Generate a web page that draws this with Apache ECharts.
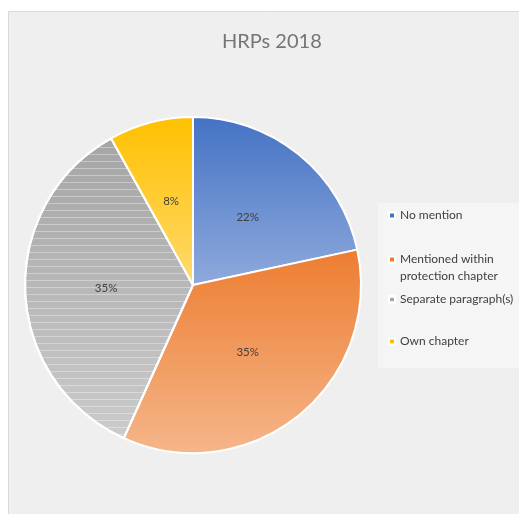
<!DOCTYPE html>
<html><head><meta charset="utf-8">
<script src="https://cdn.jsdelivr.net/npm/echarts@6/dist/echarts.min.js"></script>
<style>html,body{margin:0;padding:0;background:#fff}#c{width:519px;height:514px}</style>
</head><body><div id="c"></div>
<script>
const categories = ['No mention', 'Mentioned within protection chapter', 'Separate paragraph(s)', 'Own chapter'];
const values = [8, 13, 13, 3];
const titleText = 'HRPs 2018';

const grads = [
  ['#4472C4', '#8FAADC'],
  ['#ED7D31', '#F5B68A'],
  ['#A5A5A5', '#CBCBCB'],
  ['#FFC000', '#FFDA6E']
];
const legendColors = ['#4472C4', '#ED7D31', '#A5A5A5', '#FFC000'];
const legendTops = [202, 229, 286, 328];
const legendLabels = ['No mention', '{p| }\n{t|Mentioned within}\n{t|protection chapter}', 'Separate paragraph(s)', 'Own chapter'];

const chart = echarts.init(document.getElementById('c'), null, {renderer: 'canvas'});
const data = categories.map((c, i) => {
  const st = {
    color: {type: 'linear', x: 0, y: 0, x2: 0, y2: 1, colorStops: [{offset: 0, color: grads[i][0]}, {offset: 1, color: grads[i][1]}]}
  };
  if (i === 2) st.decal = {symbol: 'rect', dashArrayX: [[1, 0]], dashArrayY: [1, 6], rotation: 0, color: 'rgba(255,255,255,0.35)', symbolSize: 1};
  return {name: c, value: values[i], itemStyle: st};
});
const total = values.reduce((a, b) => a + b, 0);

chart.setOption({
  animation: false,
  title: {text: titleText, left: 217, top: 27, textStyle: {fontFamily: 'Lato', fontSize: 20, fontWeight: 'normal', color: '#757575'}},
  graphic: [
    {type: 'rect', z: -10, shape: {x: 8.5, y: 11.5, width: 520, height: 510}, style: {fill: '#EFEFEF', stroke: '#D9D9D9', lineWidth: 1}},
    {type: 'rect', z: -9, shape: {x: 378, y: 203, width: 141, height: 165}, style: {fill: '#F5F5F5'}}
  ],
  legend: categories.map((c, i) => ({
    data: [c], orient: 'vertical', left: 383, top: legendTops[i],
    itemWidth: 6, itemHeight: 6, icon: 'rect', selectedMode: false,
    itemStyle: {color: legendColors[i]},
    formatter: () => legendLabels[i],
    textStyle: {fontFamily: 'Lato', fontSize: 12, color: '#404040', lineHeight: 17,
      rich: {p: {fontSize: 12, lineHeight: 17}, t: {fontFamily: 'Lato', fontSize: 12, color: '#404040', lineHeight: 17}}}
  })),
  series: [{
    type: 'pie', center: [193, 285], radius: [0, 168], startAngle: 90, clockwise: true,
    data: data,
    itemStyle: {borderColor: '#fff', borderWidth: 2},
    label: {position: 'inside', formatter: p => Math.round(p.value / total * 100) + '%', fontFamily: 'Lato', fontSize: 11.5, color: '#404040'},
    labelLine: {show: false},
    emphasis: {disabled: true}
  }]
});
</script></body></html>
